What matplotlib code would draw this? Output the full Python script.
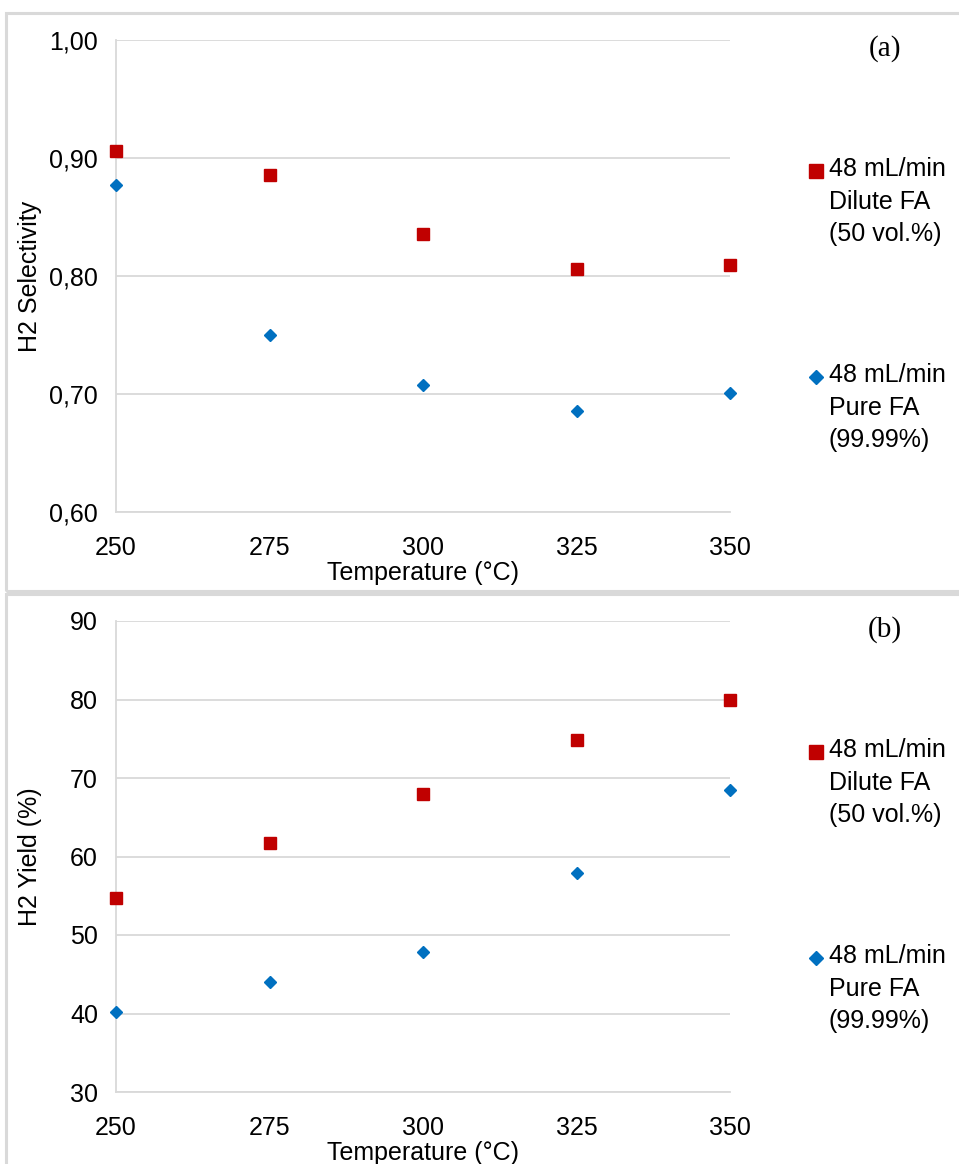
import matplotlib
matplotlib.use("Agg")
import matplotlib.pyplot as plt
from matplotlib.patches import Rectangle
from matplotlib.lines import Line2D
from matplotlib.ticker import FixedLocator, FuncFormatter

# data
temps = [250, 275, 300, 325, 350]
sel_dilute = [0.906, 0.886, 0.836, 0.806, 0.809]
sel_pure = [0.877, 0.750, 0.708, 0.686, 0.701]
yield_dilute = [54.7, 61.7, 67.9, 74.8, 79.9]
yield_pure = [40.2, 44.0, 47.8, 57.9, 68.5]

lab_dilute = "48 mL/min\nDilute FA\n(50 vol.%)"
lab_pure = "48 mL/min\nPure FA\n(99.99%)"

RED = "#C00000"
BLUE = "#0070C0"
GRID = "#D9D9D9"
FS = 18
plt.rcParams['font.family'] = ['Liberation Sans', 'DejaVu Sans']

W, H = 959, 1164
fig = plt.figure(figsize=(W / 100, H / 100), dpi=100)

# panel frames
for y0, y1 in [(13, 591), (594, 1170)]:
    fig.add_artist(Rectangle((6 / W, 1 - y1 / H), (W + 10) / W, (y1 - y0) / H,
                             transform=fig.transFigure, fill=False,
                             edgecolor=GRID, lw=2.2))


def px(x, y):
    return x / W, 1 - y / H


def panel(top, bottom, ys_red, ys_blue, ylim, yticks, fmt, ylabel, tag):
    l, r = 116, 730
    ax = fig.add_axes([l / W, 1 - bottom / H, (r - l) / W, (bottom - top) / H])
    ax.plot(temps, ys_red, ls="none", marker="s", ms=8.6, color=RED, clip_on=False, zorder=3)
    ax.plot(temps, ys_blue, ls="none", marker="D", ms=6.2, color=BLUE, clip_on=False, zorder=3)
    ax.set_xlim(250, 350)
    ax.set_ylim(*ylim)
    ax.xaxis.set_major_locator(FixedLocator(temps))
    ax.yaxis.set_major_locator(FixedLocator(yticks))
    ax.yaxis.set_major_formatter(FuncFormatter(fmt))
    ax.grid(axis="y", color=GRID, lw=1.3)
    ax.set_axisbelow(True)
    for s in ["top", "right"]:
        ax.spines[s].set_visible(False)
    for s in ["left", "bottom"]:
        ax.spines[s].set_color(GRID)
        ax.spines[s].set_linewidth(1.3)
    ax.tick_params(length=0, labelsize=FS, colors="black")
    ax.tick_params(axis="x", pad=17)
    ax.tick_params(axis="y", pad=13)
    h = bottom - top
    ax.set_xlabel("Temperature (°C)", fontsize=FS, va="center")
    ax.xaxis.set_label_coords(0.5, -61 / h)
    ax.set_ylabel(ylabel, fontsize=FS, va="center")
    ax.yaxis.set_label_coords(-86 / (r - l), 0.5)

    # legend drawn by hand so the marker sits beside the first line
    for dy, mk, ms, col, lab in [(131, "s", 10, RED, lab_dilute), (337, "D", 7.5, BLUE, lab_pure)]:
        mx, my = px(816, top + dy)
        fig.add_artist(Line2D([mx], [my], marker=mk, ms=ms, color=col, ls="none",
                              transform=fig.transFigure))
        tx, ty = px(829, top + dy - 14)
        fig.text(tx, ty, lab, fontsize=FS, va="top", ha="left", linespacing=1.45)

    tx, ty = px(885, top + 9)
    fig.text(tx, ty, tag, fontsize=21, family="Liberation Serif", ha="center", va="center")
    return ax


panel(40, 512, sel_dilute, sel_pure, (0.6, 1.0), [0.6, 0.7, 0.8, 0.9, 1.0],
      lambda v, p: f"{v:.2f}".replace(".", ","), "H2 Selectivity", "(a)")
panel(621, 1092, yield_dilute, yield_pure, (30, 90), [30, 40, 50, 60, 70, 80, 90],
      lambda v, p: f"{v:.0f}", "H2 Yield (%)", "(b)")

fig.savefig("out.png", dpi=100)
